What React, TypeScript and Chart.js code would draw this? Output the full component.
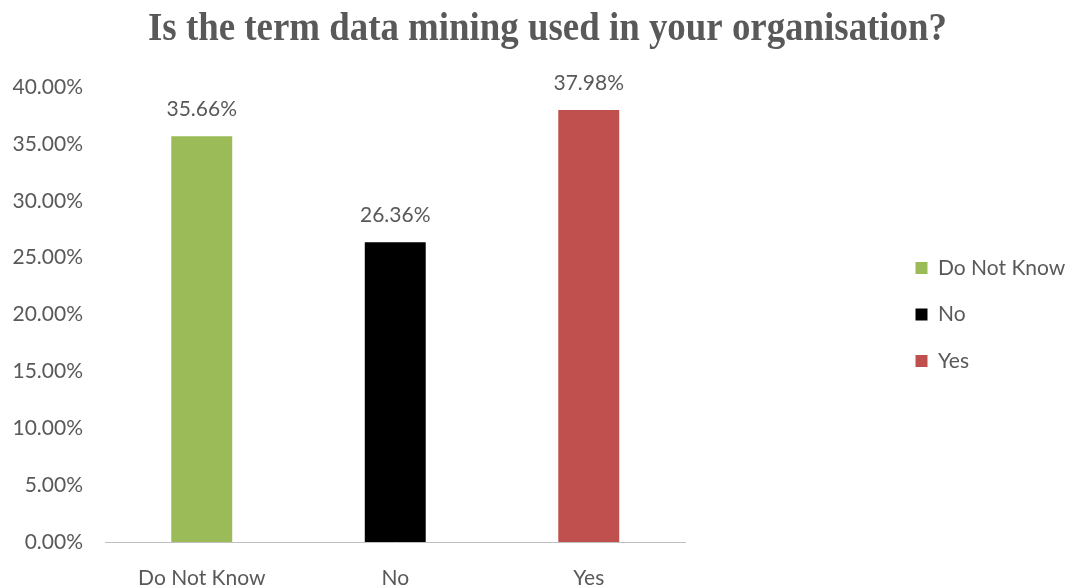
import React, { useEffect, useRef } from 'react';
import { Chart, registerables } from 'chart.js';

Chart.register(...registerables);

const TITLE = 'Is the term data mining used in your organisation?';
const categories = ['Do Not Know', 'No', 'Yes'];
const percentages = [35.66, 26.36, 37.98];
const barColors = ['#9BBB59', '#000000', '#C0504D'];
const yMin = 0;
const yMax = 40;
const yStep = 5;

const TEXT_COLOR = '#595959';
const FONT_FAMILY = 'Lato';

const titlePlugin = {
  id: 'condensedTitle',
  afterDraw(chart: any) {
    const ctx = chart.ctx;
    ctx.save();
    ctx.font = 'bold 41px "Liberation Serif"';
    ctx.fillStyle = TEXT_COLOR;
    ctx.textAlign = 'center';
    ctx.textBaseline = 'alphabetic';
    const w = ctx.measureText(TITLE).width;
    const sx = 799 / w;
    ctx.translate(547.5, 40);
    ctx.scale(sx, 1);
    ctx.fillText(TITLE, 0, 0);
    ctx.restore();
  },
};

const valueLabelPlugin = {
  id: 'valueLabels',
  afterDatasetsDraw(chart: any) {
    const ctx = chart.ctx;
    const meta = chart.getDatasetMeta(0);
    ctx.save();
    ctx.font = `21px ${FONT_FAMILY}`;
    ctx.fillStyle = TEXT_COLOR;
    ctx.textAlign = 'center';
    ctx.textBaseline = 'alphabetic';
    meta.data.forEach((bar: any, i: number) => {
      ctx.fillText(percentages[i].toFixed(2) + '%', bar.x, bar.y - 20);
    });
    ctx.restore();
  },
};

export default function App() {
  const canvasRef = useRef<HTMLCanvasElement | null>(null);

  useEffect(() => {
    if (!canvasRef.current) return;
    const chart = new Chart(canvasRef.current, {
      type: 'bar',
      data: {
        labels: categories,
        datasets: [
          {
            label: 'Share',
            data: percentages,
            backgroundColor: barColors,
            borderWidth: 0,
            barPercentage: 0.315,
            categoryPercentage: 1,
          },
        ],
      },
      options: {
        responsive: true,
        maintainAspectRatio: false,
        animation: false,
        layout: { padding: { top: 87, left: 0, right: 0, bottom: 0 } },
        plugins: {
          title: { display: false },
          tooltip: { enabled: false },
          legend: {
            display: true,
            position: 'right',
            align: 'center',
            fullSize: false,
            onClick: () => {},
            labels: {
              boxWidth: 12,
              boxHeight: 12,
              padding: 25.5,
              color: TEXT_COLOR,
              font: { family: FONT_FAMILY, size: 21 },
              generateLabels: () =>
                categories.map((c, i) => ({
                  text: c,
                  fillStyle: barColors[i],
                  strokeStyle: barColors[i],
                  lineWidth: 0,
                  hidden: false,
                  index: i,
                  fontColor: TEXT_COLOR,
                })),
            },
          },
        },
        scales: {
          x: {
            grid: { display: false, drawTicks: false },
            border: { display: true, color: '#BFBFBF', width: 1 },
            ticks: {
              color: TEXT_COLOR,
              font: { family: FONT_FAMILY, size: 21 },
              padding: 24,
            },
            afterFit: (s: any) => {
              s.height = 46;
            },
          },
          y: {
            position: 'left',
            min: yMin,
            max: yMax,
            grid: { display: false, drawTicks: false },
            border: { display: false },
            ticks: {
              stepSize: yStep,
              color: TEXT_COLOR,
              font: { family: FONT_FAMILY, size: 21 },
              padding: 22,
              callback: (v: any) => Number(v).toFixed(2) + '%',
            },
            afterFit: (s: any) => {
              s.width = 105;
            },
          },
          gap: {
            type: 'linear',
            position: 'right',
            display: true,
            grid: { display: false, drawTicks: false },
            border: { display: false },
            ticks: { display: false },
            afterFit: (s: any) => {
              s.width = 204.5;
            },
          },
        },
      },
      plugins: [titlePlugin, valueLabelPlugin],
    });
    return () => chart.destroy();
  }, []);

  return (
    <div
      style={{
        position: 'fixed',
        left: 0,
        top: 0,
        width: 1068,
        height: 588,
        background: '#ffffff',
      }}
    >
      <canvas ref={canvasRef} />
    </div>
  );
}
